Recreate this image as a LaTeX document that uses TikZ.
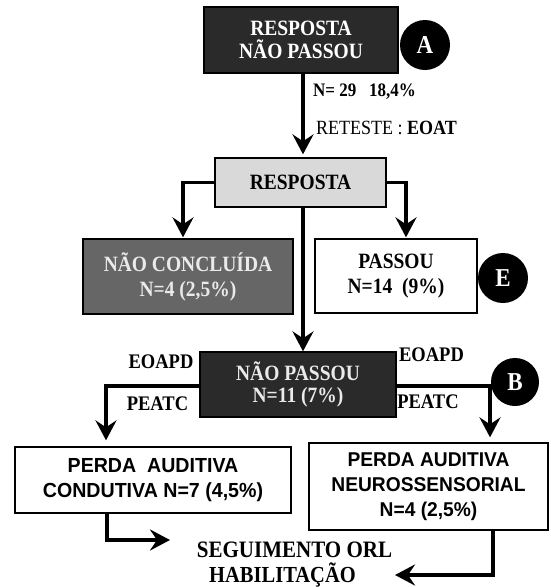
\documentclass[tikz,border=0pt]{standalone}
\usepackage{fontspec}
\usepackage{graphicx}
\setmainfont{Liberation Serif}
\setsansfont{Liberation Sans}
\usetikzlibrary{arrows.meta,positioning}
\definecolor{darkbox}{HTML}{2A2A2A}
\definecolor{midbox}{HTML}{666666}
\definecolor{lightbox}{HTML}{D9D9D9}
\definecolor{lighttext}{HTML}{EAEAEA}
\newcommand{\tall}[1]{\scalebox{1}[1.12]{#1}}
\newcommand{\stall}[1]{\scalebox{1}[1.04]{#1}}
\tikzset{
  box/.style={draw=black, line width=1.3pt, align=center, inner sep=0pt, font=\bfseries\fontsize{19.5}{23}\selectfont},
  sbox/.style={draw=black, line width=1.3pt, align=center, inner sep=0pt, font=\sffamily\bfseries\fontsize{19.6}{25}\selectfont},
  badge/.style={circle, fill=black, text=white, inner sep=0pt, minimum size=50pt, font=\bfseries\fontsize{23}{23}\selectfont},
  conn/.style={line width=3.3pt, -{Stealth[length=20pt,width=21pt,inset=7pt]}},
  lbl/.style={inner sep=0pt, font=\bfseries\fontsize{18.5}{20}\selectfont}
}
\begin{document}
\begin{tikzpicture}[x=1pt,y=-1pt]
\useasboundingbox (0,0) rectangle (550,587);
% boxes
\node[box, fill=darkbox, text=white, minimum width=194pt, minimum height=66pt] (top) at (301,40) {\tall{RESPOSTA}\\\tall{NÃO PASSOU}};
\node[badge] (A) at (425,45) {\tall{A}};
\node[box, fill=lightbox, minimum width=171pt, minimum height=49pt] (resp) at (300.5,182.5) {\tall{RESPOSTA}};
\node[box, fill=midbox, text=lighttext, minimum width=210pt, minimum height=75pt, font=\bfseries\fontsize{19.5}{25}\selectfont] (nc) at (188,276.5) {\tall{NÃO CONCLUÍDA}\\\tall{N=4 (2,5\%)}};
\node[box, fill=white, minimum width=162pt, minimum height=74pt, font=\bfseries\fontsize{19.5}{25}\selectfont] (pass) at (396,276) {\tall{PASSOU}\\\tall{N=14\ \ (9\%)}};
\node[badge] (E) at (503,278) {\tall{E}};
\node[box, fill=darkbox, text=lighttext, minimum width=196pt, minimum height=65pt, font=\bfseries\fontsize{19.5}{22}\selectfont] (np) at (298,384.5) {\tall{NÃO PASSOU}\\\tall{N=11 (7\%)}};
\node[sbox, fill=white, minimum width=276pt, minimum height=66pt] (cond) at (153,480) {\stall{PERDA\ \ AUDITIVA}\\\stall{CONDUTIVA N=7 (4,5\%)}};
\node[sbox, fill=white, minimum width=239pt, minimum height=87pt, font=\sffamily\bfseries\fontsize{19.2}{25}\selectfont] (neuro) at (428.5,486.5) {\stall{PERDA AUDITIVA}\\\stall{NEUROSSENSORIAL}\\\stall{N=4 (2,5\%)}};
% texts
\node[anchor=west, inner sep=0pt, font=\bfseries\fontsize{17}{18}\selectfont] (n29) at (313,92) {\tall{N= 29\ \ \ 18,4\%}};
\node[anchor=west, inner sep=0pt, font=\fontsize{18}{18}\selectfont] (ret) at (316,128) {\tall{RETESTE : \textbf{EOAT}}};
\node[lbl] (eoL) at (161,362) {\tall{EOAPD}};
\node[lbl] (peL) at (157.5,404) {\tall{PEATC}};
\node[lbl] (eoR) at (431.5,355) {\tall{EOAPD}};
\node[lbl] (peR) at (428,402) {\tall{PEATC}};
\node[inner sep=0pt, anchor=base, font=\bfseries\fontsize{21}{24}\selectfont] (seg) at (294.5,557) {\tall{SEGUIMENTO ORL}};
\node[inner sep=0pt, anchor=base, font=\bfseries\fontsize{20.5}{24}\selectfont] (hab) at (282.5,582) {\tall{HABILITAÇÃO}};
% helper coordinates
\coordinate (cx) at (303,0);
\coordinate (lx) at (183,0);
\coordinate (rx) at (406,0);
\coordinate (llx) at (106,0);
\coordinate (rrx) at (490,0);
\coordinate (lb) at (107,540);
\coordinate (lend) at (170,540);
\coordinate (rb) at (493,575);
\coordinate (rend) at (395,575);
% connectors
\draw[conn, shorten >=3pt] (top.south -| cx) -- (resp.north -| cx);
\draw[conn, shorten >=1pt] (resp.west) -| (nc.north -| lx);
\draw[conn, shorten >=1pt] (resp.east) -| (pass.north -| rx);
\draw[conn] (resp.south -| cx) -- (np.north -| cx);
\draw[conn, shorten >=6pt] ([yshift=-1.5pt]np.west) -| (cond.north -| llx);
\draw[conn, shorten >=5pt] ([yshift=-1.5pt]np.east) -| (neuro.north -| rrx);
\draw[conn] (cond.south -| lb) -- (lb) -- (lend);
\draw[conn] (neuro.south -| rb) -- (rb) -- (rend);
\node[badge, minimum size=48pt] (B) at (515,382) {\tall{B}};
\end{tikzpicture}
\end{document}
